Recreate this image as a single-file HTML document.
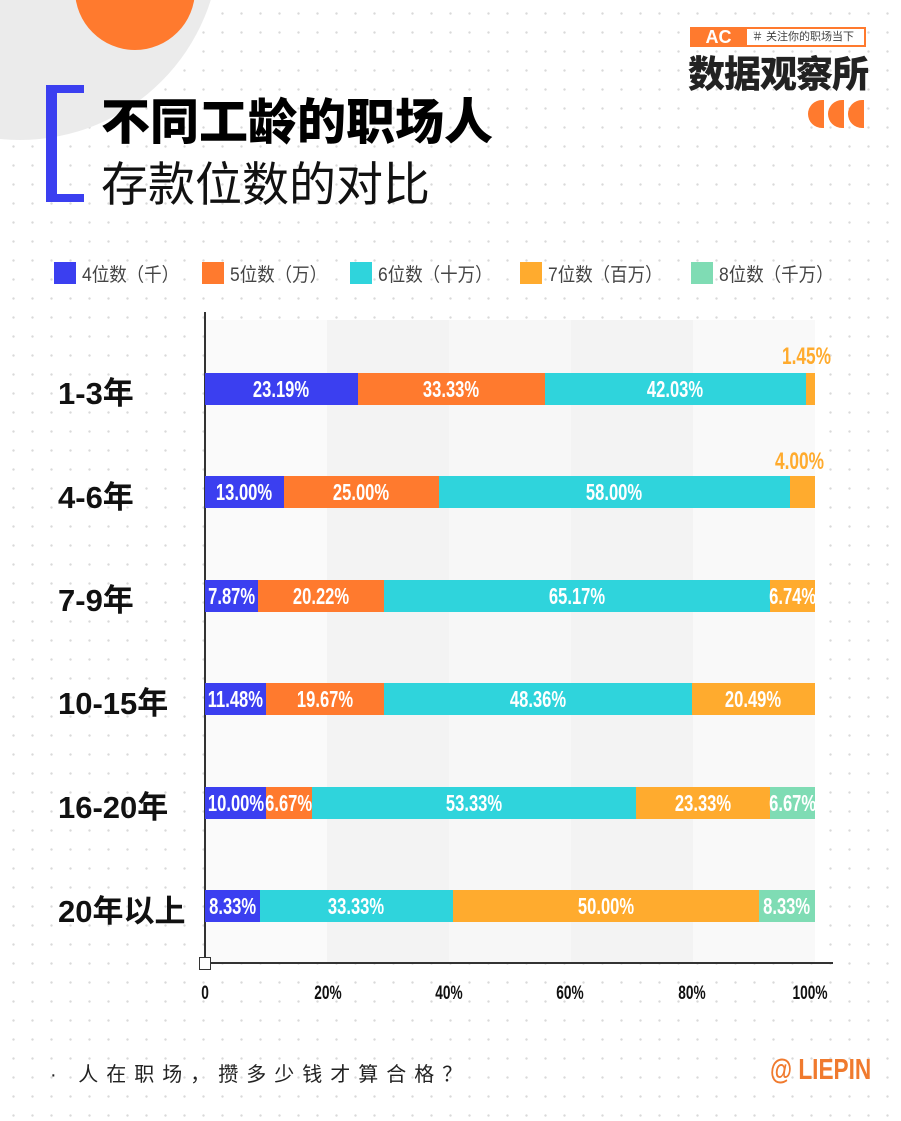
<!DOCTYPE html>
<html><head><meta charset="utf-8"><style>
body{margin:0;width:901px;height:1121px;position:relative;overflow:hidden;background-color:#fff;
background-image:radial-gradient(circle,#d9d9d9 1px,transparent 1.4px);background-size:19px 19px;background-position:4px 4px;
font-family:"Liberation Sans","Noto Sans CJK SC",sans-serif;}
.a{position:absolute}
.s{position:absolute;height:32px;line-height:32px;color:#fff;white-space:nowrap;font-weight:bold;font-size:23px;display:flex;justify-content:center;overflow:visible}
.s span{display:inline-block;transform:scaleX(0.72)}
.b{background:#3b3ff0}.o{background:#ff7a2e}.c{background:#2fd4dc}.y{background:#ffab2e}.g{background:#7fdcb4}
.rl{position:absolute;left:58px;font-weight:bold;font-size:31px;color:#111;margin-top:-2px}
.lg{position:absolute;top:262px;width:22px;height:22px}
.lt{position:absolute;top:260px;font-size:19px;color:#444;transform-origin:left;transform:scaleX(0.92)}
.tk{position:absolute;top:983px;font-weight:bold;font-size:19px;color:#111;transform:translateX(-50%) scaleX(0.72)}
.ol{position:absolute;color:#ffab2e;font-weight:bold;font-size:24px;transform-origin:left;transform:scaleX(0.72)}
</style></head><body>
<div class="a" style="left:-180px;top:-260px;width:400px;height:400px;border-radius:50%;background:#ebebeb"></div>
<div class="a" style="left:75px;top:-70px;width:120px;height:120px;border-radius:50%;background:#ff7a2e"></div>
<div class="a" style="left:205px;top:320px;width:610px;height:643px;background:linear-gradient(90deg,#fafafa 0,#fafafa 20%,#f3f3f3 20%,#f3f3f3 40%,#f7f7f7 40%,#f7f7f7 60%,#f3f3f3 60%,#f3f3f3 80%,#f9f9f9 80%)"></div>
<div class="a" style="left:46px;top:85px;width:11px;height:117px;background:#3b3ff0"></div>
<div class="a" style="left:46px;top:85px;width:38px;height:8px;background:#3b3ff0"></div>
<div class="a" style="left:46px;top:194px;width:38px;height:8px;background:#3b3ff0"></div>
<div class="a" style="left:101px;top:83px;font-size:49px;font-weight:900;color:#000">不同工龄的职场人</div>
<div class="a" style="left:101px;top:146px;font-size:47px;color:#111">存款位数的对比</div>
<div class="a" style="left:690px;top:27px;width:176px;height:20px;border:2px solid #ff7a2e;box-sizing:border-box"></div>
<div class="a" style="left:690px;top:27px;width:57px;height:20px;background:#ff7a2e;color:#fff;font-weight:bold;font-size:18px;line-height:20px;text-align:center">AC</div>
<div class="a" style="left:752px;top:29px;font-size:11px;color:#444;line-height:16px">＃ 关注你的职场当下</div>
<div class="a" style="left:688px;top:44px;font-size:37px;font-weight:900;color:#222;letter-spacing:-1px">数据观察所</div>
<div class="a" style="left:808px;top:100px;width:56px;height:28px;display:flex;gap:4px">
<div style="width:16px;height:28px;border-radius:16px 0 0 16px;background:#ff7a2e"></div>
<div style="width:16px;height:28px;border-radius:16px 0 0 16px;background:#ff7a2e"></div>
<div style="width:16px;height:28px;border-radius:16px 0 0 16px;background:#ff7a2e"></div></div>
<div class="lg b" style="left:54px"></div><div class="lt" style="left:82px">4位数（千）</div>
<div class="lg o" style="left:202px"></div><div class="lt" style="left:230px">5位数（万）</div>
<div class="lg c" style="left:350px"></div><div class="lt" style="left:378px">6位数（十万）</div>
<div class="lg y" style="left:520px"></div><div class="lt" style="left:548px">7位数（百万）</div>
<div class="lg g" style="left:691px"></div><div class="lt" style="left:719px">8位数（千万）</div>
<div class="a" style="left:204px;top:312px;width:2px;height:652px;background:#333"></div>
<div class="a" style="left:205px;top:962px;width:628px;height:1.5px;background:#333"></div>
<div class="a" style="left:199px;top:957px;width:10px;height:11px;border:1.5px solid #333;background:#fff"></div>
<div class="tk" style="left:205px">0</div><div class="tk" style="left:328px">20%</div><div class="tk" style="left:449px">40%</div><div class="tk" style="left:570px">60%</div><div class="tk" style="left:692px">80%</div><div class="tk" style="left:810px">100%</div>

<div class="rl" style="top:370px">1-3年</div>
<div class="s b" style="top:373px;left:205px;width:153px"><span>23.19%</span></div>
<div class="s o" style="top:373px;left:358px;width:187px"><span>33.33%</span></div>
<div class="s c" style="top:373px;left:545px;width:261px"><span>42.03%</span></div>
<div class="s y" style="top:373px;left:806px;width:9px"></div>
<div class="ol" style="left:782px;top:343px">1.45%</div>

<div class="rl" style="top:474px">4-6年</div>
<div class="s b" style="top:476px;left:205px;width:79px"><span>13.00%</span></div>
<div class="s o" style="top:476px;left:284px;width:155px"><span>25.00%</span></div>
<div class="s c" style="top:476px;left:439px;width:351px"><span>58.00%</span></div>
<div class="s y" style="top:476px;left:790px;width:25px"></div>
<div class="ol" style="left:775px;top:448px">4.00%</div>

<div class="rl" style="top:577px">7-9年</div>
<div class="s b" style="top:580px;left:205px;width:53px"><span>7.87%</span></div>
<div class="s o" style="top:580px;left:258px;width:126px"><span>20.22%</span></div>
<div class="s c" style="top:580px;left:384px;width:386px"><span>65.17%</span></div>
<div class="s y" style="top:580px;left:770px;width:45px"><span>6.74%</span></div>

<div class="rl" style="top:680px">10-15年</div>
<div class="s b" style="top:683px;left:205px;width:61px"><span>11.48%</span></div>
<div class="s o" style="top:683px;left:266px;width:118px"><span>19.67%</span></div>
<div class="s c" style="top:683px;left:384px;width:308px"><span>48.36%</span></div>
<div class="s y" style="top:683px;left:692px;width:123px"><span>20.49%</span></div>

<div class="rl" style="top:784px">16-20年</div>
<div class="s b" style="top:787px;left:205px;width:61px"><span>10.00%</span></div>
<div class="s o" style="top:787px;left:266px;width:46px"><span>6.67%</span></div>
<div class="s c" style="top:787px;left:312px;width:324px"><span>53.33%</span></div>
<div class="s y" style="top:787px;left:636px;width:134px"><span>23.33%</span></div>
<div class="s g" style="top:787px;left:770px;width:45px"><span>6.67%</span></div>

<div class="rl" style="top:888px">20年以上</div>
<div class="s b" style="top:890px;left:205px;width:55px"><span>8.33%</span></div>
<div class="s c" style="top:890px;left:260px;width:193px"><span>33.33%</span></div>
<div class="s y" style="top:890px;left:453px;width:306px"><span>50.00%</span></div>
<div class="s g" style="top:890px;left:759px;width:56px"><span>8.33%</span></div>

<div class="a" style="left:50px;top:1058px;font-size:20px;color:#222;letter-spacing:8px">· 人在职场，攒多少钱才算合格？</div>
<div class="a" style="left:770px;top:1054px;font-size:29px;font-weight:bold;color:#f07a2e;transform-origin:left;transform:scaleX(0.78)">@ LIEPIN</div>
</body></html>
